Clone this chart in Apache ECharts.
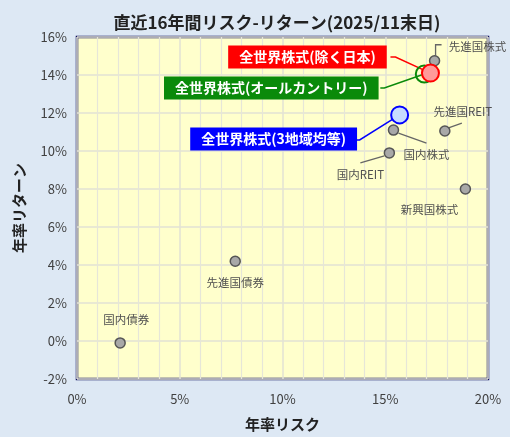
<!DOCTYPE html>
<html><head><meta charset="utf-8">
<script src="https://cdn.jsdelivr.net/npm/echarts@6/dist/echarts.min.js"></script>
<style>html,body{margin:0;padding:0;background:#dde8f4;}#c{width:510px;height:437px;}</style>
</head><body><div id="c"></div>
<script>
// Data
const assetNames = ['国内債券','先進国債券','国内株式','先進国株式','国内REIT','先進国REIT','新興国株式'];
const assetRisk = [2.1, 7.7, 15.4, 17.4, 15.2, 17.9, 18.9];
const assetReturn = [-0.1, 4.2, 11.1, 14.75, 9.9, 11.05, 8.0];
const fundNames = ['全世界株式(オールカントリー)','全世界株式(除く日本)','全世界株式(3地域均等)'];
const fundRisk = [16.9, 17.2, 15.7];
const fundReturn = [14.05, 14.1, 11.9];
const xTicks = [0, 5, 10, 15, 20];
const yTicks = [-2, 0, 2, 4, 6, 8, 10, 12, 14, 16];

// label layout (pixel offsets from the point; style only)
const assetLabel = {
  '国内債券': {dx: 6, dy: -23, guide: null},
  '先進国債券': {dx: 0, dy: 21, guide: null},
  '国内株式': {dx: 33, dy: 25, guide: [[5, 3], [33, 13]]},
  '先進国株式': {dx: 43, dy: -14, guide: [[1, -5], [1, -16], [7, -16]]},
  '国内REIT': {dx: -29, dy: 22, guide: [[-5, 3], [-29, 10]]},
  '先進国REIT': {dx: 18, dy: -19, guide: [[3, -3], [17, -8]]},
  '新興国株式': {dx: -36, dy: 21, guide: null}
};
const fundStyle = [
  {color: '#0a8a0a', fill: 'rgba(255,255,255,0)', dx: -153, dy: 14, guide: [[-44, 14], [-40, 14], [0, 0]]},
  {color: '#ff0000', fill: '#ff9a9a', dx: -123, dy: -16, guide: [[-40, -16], [-35, -16], [0, 0]]},
  {color: '#0000ff', fill: '#c8dcff', dx: -126, dy: 24, guide: [[-45, 25], [-40, 25], [0, 0]]}
];

const chart = echarts.init(document.getElementById('c'));
const font = '"Noto Sans CJK JP", "Noto Sans", sans-serif';

const series = [{
  type: 'scatter',
  symbolSize: 10,
  itemStyle: {color: '#a8a8a8', borderColor: '#555', borderWidth: 1.5, opacity: 1},
  label: {show: true, position: 'inside', formatter: p => p.name, color: '#505050', fontSize: 11.5, fontFamily: font},
  labelLayout: p => { const s = assetLabel[assetNames[p.dataIndex]]; return {dx: s.dx, dy: s.dy}; },
  data: assetNames.map((n, i) => ({name: n, value: [assetRisk[i], assetReturn[i]]})),
  z: 2
}];
fundNames.forEach((n, i) => {
  const s = fundStyle[i];
  series.push({
    type: 'scatter',
    symbolSize: 17,
    itemStyle: {color: s.fill, borderColor: s.color, borderWidth: 2, opacity: 1},
    label: {show: true, position: 'inside', formatter: n, color: '#fff', fontSize: 14, fontWeight: 'bold',
      fontFamily: font, backgroundColor: s.color, padding: [5, 11, 4, 11]},
    labelLayout: {dx: s.dx, dy: s.dy},
    data: [{name: n, value: [fundRisk[i], fundReturn[i]]}],
    z: 3 + i
  });
});

chart.setOption({
  backgroundColor: '#dde8f4',
  animation: false,
  title: {text: '直近16年間リスク-リターン(2025/11末日)', left: 272, top: 9, textAlign: 'center',
    textStyle: {fontFamily: font, fontSize: 17, fontWeight: 'bold', color: '#222'}},
  grid: {left: 77, right: 22, top: 37, bottom: 57, show: true, backgroundColor: '#ffffcc',
    borderColor: '#0c0c5c', borderWidth: 2.5},
  xAxis: {
    type: 'value', min: xTicks[0], max: xTicks[xTicks.length - 1], interval: 5,
    name: '年率リスク', nameLocation: 'middle', nameGap: 38,
    nameTextStyle: {fontFamily: font, fontSize: 15, fontWeight: 'bold', color: '#222'},
    axisLabel: {formatter: '{value}%', fontFamily: font, fontSize: 13, color: '#404040', margin: 14},
    axisLine: {show: false}, axisTick: {show: false},
    splitLine: {show: true, lineStyle: {color: '#e2e2d4', width: 1.5}},
    minorTick: {show: false, splitNumber: 5},
    minorSplitLine: {show: true, lineStyle: {color: '#e6e6d8', width: 1.2}}
  },
  yAxis: {
    type: 'value', min: yTicks[0], max: yTicks[yTicks.length - 1], interval: 2,
    name: '年率リターン', nameLocation: 'middle', nameGap: 50, nameRotate: 90,
    nameTextStyle: {fontFamily: font, fontSize: 15, fontWeight: 'bold', color: '#222'},
    axisLabel: {formatter: '{value}%', fontFamily: font, fontSize: 13, color: '#404040', margin: 10},
    axisLine: {show: false}, axisTick: {show: false},
    splitLine: {show: true, lineStyle: {color: '#e2e2d4', width: 1.5}}
  },
  series: series
});

// leader lines anchored to the data points through the chart's scales
const guides = [];
const addGuide = (x, y, offs, color, width) => {
  const p = chart.convertToPixel({gridIndex: 0}, [x, y]);
  guides.push({type: 'polyline', z: 1, silent: true,
    shape: {points: offs.map(o => [p[0] + o[0], p[1] + o[1]])},
    style: {stroke: color, lineWidth: width, fill: null}});
};
assetNames.forEach((n, i) => {
  const g = assetLabel[n].guide;
  if (g) addGuide(assetRisk[i], assetReturn[i], g, '#666', 1.3);
});
fundNames.forEach((n, i) => addGuide(fundRisk[i], fundReturn[i], fundStyle[i].guide, fundStyle[i].color, 1.5));
chart.setOption({graphic: guides});
</script></body></html>
